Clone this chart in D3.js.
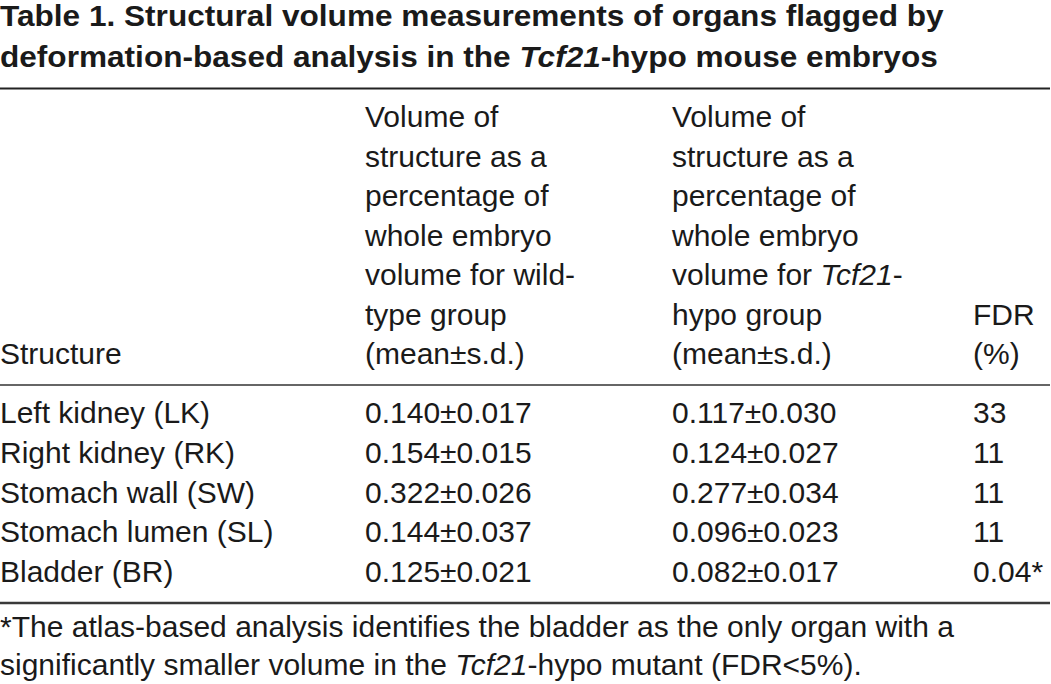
<!DOCTYPE html>
<html>
<head>
<meta charset="utf-8">
<script src="https://cdn.jsdelivr.net/npm/d3@7"></script>
<style>
  html, body { margin: 0; padding: 0; background: #fff; }
  svg { display: block; font-family: "Liberation Sans", Arial, sans-serif; }
</style>
</head>
<body>
<div id="table"></div>
<script>
// table data
const structures = ["Left kidney (LK)", "Right kidney (RK)", "Stomach wall (SW)", "Stomach lumen (SL)", "Bladder (BR)"];
const wtMean = [0.140, 0.154, 0.322, 0.144, 0.125];
const wtSd = [0.017, 0.015, 0.026, 0.037, 0.021];
const hypoMean = [0.117, 0.124, 0.277, 0.096, 0.082];
const hypoSd = [0.030, 0.027, 0.034, 0.023, 0.017];
const fdr = [33, 11, 11, 11, 0.04];
const fdrFlag = [false, false, false, false, true];

const columns = ["structure", "wt", "hypo", "fdr"];

const width = 1051;
const height = 684;
const fontSize = 30;
const ink = "#1a1a1a";

const svg = d3.select("#table")
    .append("svg")
    .attr("width", width)
    .attr("height", height);

// column positions
const x = d3.scaleOrdinal()
    .domain(columns)
    .range([0, 365, 672, 973]);

// row baselines
const y = d3.scalePoint()
    .domain(structures)
    .range([423, 582]);

const fmt = d3.format(".3f");

// title, squeezed to the width of the original
const titleLines = [
    [{t: "Table 1. Structural volume measurements of organs flagged by"}],
    [{t: "deformation-based analysis in the "}, {t: "Tcf21", i: true}, {t: "-hypo mouse embryos"}]
];
const titleWidths = [944, 938];
const titleBase = [26, 67];

titleLines.forEach((parts, k) => {
    const g = svg.append("g");
    const txt = g.append("text")
        .attr("y", titleBase[k])
        .attr("fill", ink)
        .style("font-size", "30px")
        .style("font-weight", "bold");
    parts.forEach(p => {
        txt.append("tspan")
            .style("font-style", p.i ? "italic" : "normal")
            .text(p.t);
    });
    const w = txt.node().getComputedTextLength();
    g.attr("transform", `scale(${titleWidths[k] / w},1)`);
});

// rules
const rules = [
    {y: 88.5, w: 2, c: "#222"},
    {y: 385, w: 1.5, c: "#333"},
    {y: 603, w: 2.5, c: "#3a3a3a"}
];
svg.selectAll("line.rule")
    .data(rules)
    .join("line")
    .attr("class", "rule")
    .attr("x1", 0)
    .attr("x2", 1050)
    .attr("y1", d => d.y)
    .attr("y2", d => d.y)
    .attr("stroke", d => d.c)
    .attr("stroke-width", d => d.w);

// header cells (bottom aligned)
const lineGap = 39.5;
const headBottom = 364;
const header = {
    structure: [[{t: "Structure"}]],
    wt: [[{t: "Volume of"}], [{t: "structure as a"}], [{t: "percentage of"}], [{t: "whole embryo"}],
         [{t: "volume for wild-"}], [{t: "type group"}], [{t: "(mean±s.d.)"}]],
    hypo: [[{t: "Volume of"}], [{t: "structure as a"}], [{t: "percentage of"}], [{t: "whole embryo"}],
           [{t: "volume for "}, {t: "Tcf21", i: true}, {t: "-"}], [{t: "hypo group"}], [{t: "(mean±s.d.)"}]],
    fdr: [[{t: "FDR"}], [{t: "(%)"}]]
};

columns.forEach(col => {
    const lines = header[col];
    lines.forEach((parts, k) => {
        const txt = svg.append("text")
            .attr("x", x(col))
            .attr("y", headBottom - (lines.length - 1 - k) * lineGap)
            .attr("fill", ink)
            .style("font-size", fontSize + "px");
        parts.forEach(p => {
            txt.append("tspan")
                .style("font-style", p.i ? "italic" : "normal")
                .text(p.t);
        });
    });
});

// body rows
const rows = structures.map((s, i) => ({
    structure: s,
    wt: `${fmt(wtMean[i])}±${fmt(wtSd[i])}`,
    hypo: `${fmt(hypoMean[i])}±${fmt(hypoSd[i])}`,
    fdr: String(fdr[i]) + (fdrFlag[i] ? "*" : "")
}));

const rowG = svg.selectAll("g.row")
    .data(rows)
    .join("g")
    .attr("class", "row")
    .attr("transform", d => `translate(0,${y(d.structure)})`);

rowG.selectAll("text")
    .data(d => columns.map(c => ({c, v: d[c]})))
    .join("text")
    .attr("x", d => x(d.c))
    .attr("fill", ink)
    .style("font-size", fontSize + "px")
    .text(d => d.v);

// footnote
const foot = [
    [{t: "*The atlas-based analysis identifies the bladder as the only organ with a"}],
    [{t: "significantly smaller volume in the "}, {t: "Tcf21", i: true}, {t: "-hypo mutant (FDR<5%)."}]
];
const footBase = [637, 675];
foot.forEach((parts, k) => {
    const txt = svg.append("text")
        .attr("x", 0)
        .attr("y", footBase[k])
        .attr("fill", ink)
        .style("font-size", fontSize + "px");
    parts.forEach(p => {
        txt.append("tspan")
            .style("font-style", p.i ? "italic" : "normal")
            .text(p.t);
    });
});
</script>
</body>
</html>
